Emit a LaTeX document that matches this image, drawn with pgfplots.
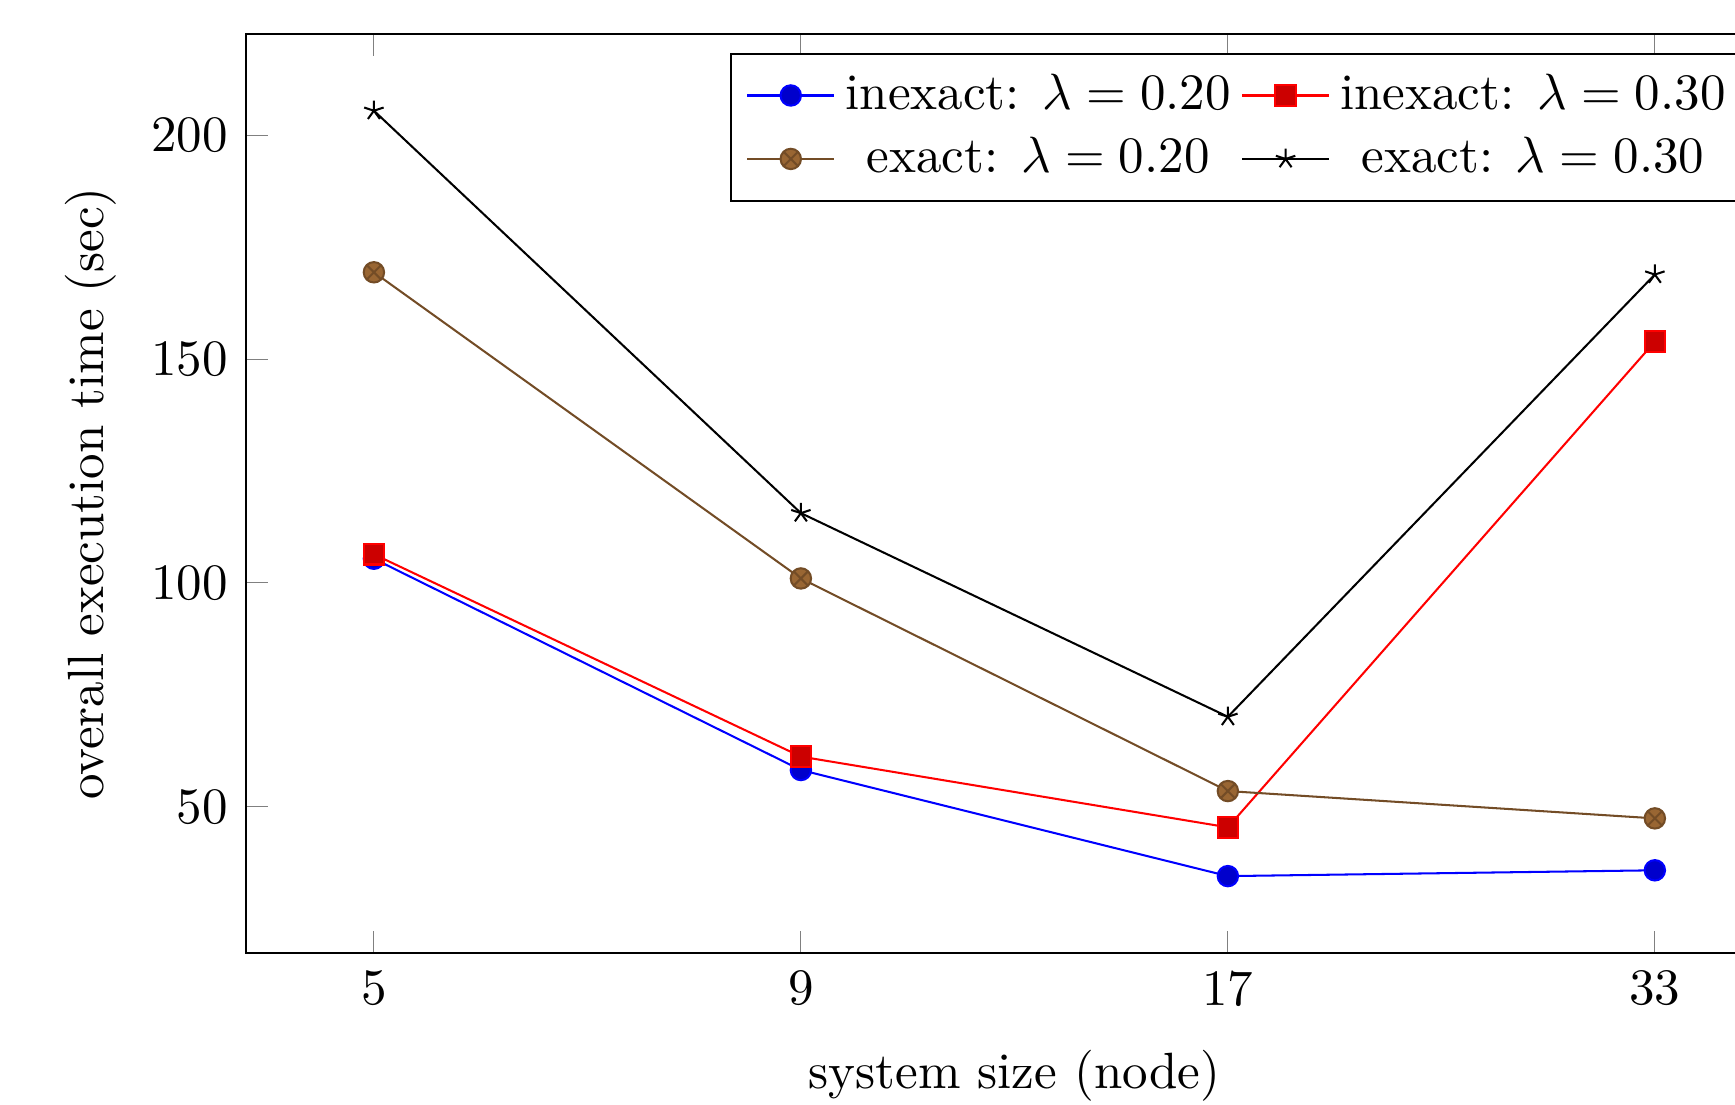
\documentclass[border=0pt]{standalone}
\usepackage{pgfplots}
\pgfplotsset{compat=1.18}
\begin{document}
\begin{tikzpicture}
\begin{axis}[
    width=301.4pt, height=180.1pt,
    scale only axis,
    xtick=data,
    xticklabels={5,9,17,33},
    ytick={50,100,150,200},
    xlabel={system size (node)},
    xlabel style={yshift=-1.7pt},
    ylabel={overall execution time (sec)},
    legend columns=2,
    legend cell align=center,
]
\addplot coordinates {(0,105.4)(1,58.2)(2,34.5)(3,35.8)};
\addlegendentry{inexact: $\lambda=0.20$}
\addplot coordinates {(0,106.4)(1,61.2)(2,45.4)(3,153.9)};
\addlegendentry{inexact: $\lambda=0.30$}
\addplot coordinates {(0,169.4)(1,101.0)(2,53.5)(3,47.4)};
\addlegendentry{exact: $\lambda=0.20$}
\addplot coordinates {(0,205.5)(1,115.6)(2,70.1)(3,168.9)};
\addlegendentry{exact: $\lambda=0.30$}
\end{axis}
% the reference is cut off at the right
\pgfresetboundingbox
\path[use as bounding box] (current axis.south west) ++(-48.2pt,-29.7pt) rectangle ++(340.2pt,216.5pt);
\end{tikzpicture}
\end{document}
